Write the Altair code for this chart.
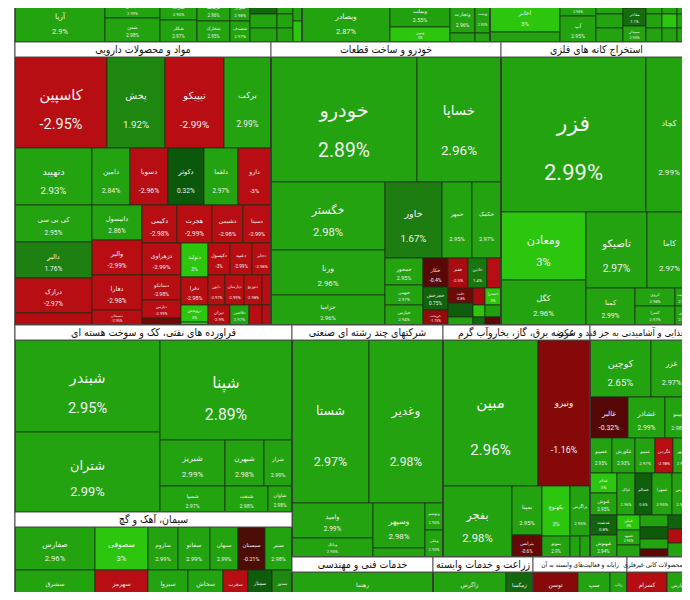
import altair as alt
import pandas as pd

# ---------------- data (ticker, % change, market value) ----------------
chem_names = ["آریا", "شپدیس", "شفن", "شاراک", "شکلر", "کرماشا", "شخارک", "شیراز", "شصدف",
              "شاملا", "شگویا", "شسینا", "شپارس", "شلعاب", "شکربن", "شجم", "شبصیر"]
chem_change = [2.9, 2.99, 2.98, 2.95, 2.97, 2.96, 2.95, 2.98, 2.97, 0.9, 2.96, 2.99, 2.95, 2.94, 2.97, 2.9, 3.0]
chem_value = [3780, 990, 1320, 740, 814, 693, 693, 420, 420, 378, 378, 378, 224, 224, 224, 189, 189]

bank_names = ["وبصادر", "وبملت", "ونوین", "وتجارت", "وسینا", "وپست", "وکار"]
bank_change = [2.87, 2.55, 3.0, 2.96, 2.9, 2.93, 2.9]
bank_value = [3696, 1620, 900, 825, 225, 495, 135]

ict_names = ["اخابر", "همراه", "های‌وب", "آپ", "افق", "انتخاب", "رافزا", "فن‌آوا", "مفاخر", "سپیدار",
             "ثامان", "سمگا", "دانا", "پرداخت", "اعتماد", "تاپکیش", "فاراک", "مبنا", "کیش"]
ict_change = [3.0, 2.9, 2.96, 2.95, 2.95, 2.97, 2.93, 2.9, 1.1, 2.95, 2.96, 2.97, 2.94, 2.95, 3.0, 2.96, 2.93, 2.95, 2.98]
ict_value = [2240, 700, 576, 936, 378, 378, 378, 184, 414, 368, 224, 210, 210, 224, 210, 210, 224, 210, 210]

pharma_names = ["کاسپین", "پخش", "تیپیکو", "برکت",
                "دتهیبد", "دامین", "دسوبا", "دکوثر", "دلقما", "دارو",
                "کی بی سی", "دالبر", "درازک", "دلر",
                "دانیسول", "والبر", "دفارا", "دسبحان",
                "دکیمی", "هجرت", "دشیمی", "دسینا",
                "دزهراوی", "دسانکو", "دپارس", "دتماد",
                "دتولید", "دفرا", "دروپخش", "دشیری",
                "دکپسول", "دعبید", "دجابر",
                "دابور", "دپارسان", "دتوزیع", "دبالک",
                "دیران", "دقاضی", "داوه", "دماوند"]
pharma_change = [-2.95, 1.92, -2.99, 2.99,
                 2.93, 2.84, -2.96, 0.32, 2.97, -3.0,
                 2.95, 1.76, -2.97, -2.9,
                 2.86, -2.99, -2.98, -2.95,
                 -2.98, -2.99, -2.98, -2.99,
                 -2.99, -2.98, -2.99, -0.8,
                 3.0, -2.98, 3.0, 3.0,
                 -3.0, -2.99, -2.98,
                 -2.97, -2.99, -2.98, -2.96,
                 -2.9, 2.97, -2.95, -2.96]
pharma_value = [8372, 5278, 5369, 4277,
                4389, 2166, 2166, 2052, 1938, 1881,
                2849, 2772, 2695, 924,
                1750, 1750, 1750, 750,
                1330, 1330, 1178, 1064,
                1248, 975, 702, 273,
                918, 756, 459, 81,
                704, 704, 608,
                510, 570, 540, 270,
                440, 380, 260, 180]

auto_names = ["خودرو", "خساپا", "خگستر", "ورنا", "خزامیا", "خاور", "خمهر", "خکمک",
              "خمحور", "خبهمن", "خپارس", "خکار", "خچرخش", "خریخت", "خفنر", "خاذین", "خرینگ",
              "خلنت", "خکاوه", "خزر", "ختور", "خعمرا", "خفولا", "خصدرا", "خموتور", "خنصیر"]
auto_change = [2.89, 2.96, 2.98, 2.96, 2.96, 1.67, 2.95, 2.97,
               2.95, 2.97, 2.94, -0.4, 0.75, -1.75, -2.5, 1.4, -2.98,
               -0.8, 0.5, 2.9, -2.5, 3.0, 0.9, 3.0, 2.5, -0.5]
auto_value = [18250, 10500, 7752, 5130, 3420, 4332, 2280, 2204,
              1026, 760, 760, 725, 575, 375, 600, 570, 420,
              375, 350, 200, 204, 144, 96, 272, 192, 128]

metal_names = ["فزر", "کچاد", "ومعادن", "کگل", "تاصیکو", "کاما", "کمنا", "کروی", "کسرا", "کرومیت", "کپرور"]
metal_change = [2.99, 2.99, 3.0, 2.96, 2.97, 2.97, 2.99, 2.98, 2.97, 2.95, 2.96]
metal_value = [22475, 7130, 5780, 3825, 4636, 3420, 1813, 720, 760, 306, 323]

oil_names = ["شبندر", "شتران", "شپنا", "شبریز", "شبهرن", "شراز", "شسپا", "شنفت", "شاوان"]
oil_change = [2.95, 2.99, 2.89, 2.99, 2.98, 2.99, 2.97, 2.98, 2.98]
oil_value = [13340, 11600, 13200, 2990, 1794, 1288, 1690, 1118, 624]

cement_names = ["صفارس", "سصوفی", "ساروم", "سفانو", "سبهان", "سیستان", "سنیر",
                "سشرق", "سهرمز", "سبزوا", "سخاش", "سغرب", "سمتاز", "سدور"]
cement_change = [2.96, 3.0, 2.99, 2.99, 2.99, -0.21, 2.98, 2.75, -2.98, 2.9, 2.93, -2.95, 0.5, 1.95]
cement_value = [3440, 2279, 1290, 1376, 1204, 1161, 1161, 2640, 1749, 1320, 1155, 825, 792, 660]

multi_names = ["شستا", "وغدیر", "وامید", "وبانک", "وسپهر", "وصنعت", "وتوسم", "وملی"]
multi_change = [2.97, 2.98, 2.99, 2.95, 2.98, 2.9, 2.95, 2.93]
multi_value = [12551, 12062, 2835, 1539, 2340, 468, 486, 486]

power_names = ["مبین", "ونیرو", "بفجر", "بمپنا", "بترانس", "بکهنوج", "بموتو", "بزاگرس", "بپاس", "بالبر"]
power_change = [2.96, -1.16, 2.98, 2.95, -0.6, 3.0, 2.9, 2.95, 2.9, 2.95]
power_value = [13870, 7592, 4899, 1470, 660, 1400, 588, 1000, 210, 210]

food_names = ["کوچین", "غزر", "غالبر", "غشاذر", "غپینو", "غصینو", "غکورش", "غمینو", "غگرجی", "غبشهر",
              "غدام", "غنوش", "غپاک", "غسالم", "غمهرا", "غفارس",
              "غدشت", "غبهنوش", "غنیلی", "غشهد", "غچین", "غاذر", "غشهداب", "غفاما", "غمارگ",
              "غگل", "غدانه", "غشصفا"]
food_change = [2.65, 2.97, -0.32, 2.99, 2.98, 2.95, 2.93, 2.97, -2.98, 2.96,
               3.0, 2.95, 2.96, 0.6, 2.95, 2.97,
               0.8, 2.94, 3.0, 2.95, 2.9, 2.96, 0.4, 2.95, -0.5,
               0.7, -2.9, 2.93]
food_value = [3477, 2337, 1558, 1517, 1107, 770, 805, 700, 630, 665,
              540, 594, 756, 714, 840, 840,
              540, 594, 345, 345, 276, 336, 336, 280, 224,
              336, 336, 336]

small_names = ["رهنما", "زاگرس", "زمگسا", "توسن", "سپ", "رتاپ", "کسرام", "کفپارس"]
small_change = [2.9, 2.95, 0.9, -1.2, 2.9, 2.95, -2.93, 2.9]
small_value = [4371, 2263, 837, 1395, 992, 527, 1240, 775]

# colour scale (% change -> tile colour)
color_stops = [-3.0, -2.9, -1.2, -0.3, 0.0, 0.3, 1.7, 2.6, 2.995, 3.0]
color_range = ["#b80e13", "#b30d12", "#870909", "#540707", "#3a1a08",
               "#0c570b", "#1d7e10", "#22a30f", "#22a30f", "#2dc60f"]

# ---------------- lookups ----------------
CHG, VAL = {}, {}
for ns, cs, vs in [(chem_names, chem_change, chem_value), (bank_names, bank_change, bank_value),
                   (ict_names, ict_change, ict_value), (pharma_names, pharma_change, pharma_value),
                   (auto_names, auto_change, auto_value), (metal_names, metal_change, metal_value),
                   (oil_names, oil_change, oil_value), (cement_names, cement_change, cement_value),
                   (multi_names, multi_change, multi_value), (power_names, power_change, power_value),
                   (food_names, food_change, food_value), (small_names, small_change, small_value)]:
    assert len(ns) == len(cs) == len(vs), ns[0]
    for n, c, v in zip(ns, cs, vs):
        assert n not in CHG, n
        CHG[n] = c
        VAL[n] = v

# ---------------- treemap structure ----------------
def H(*k):
    return ("h", list(k))


def V(*k):
    return ("v", list(k))


def S(title, body, show=True):
    return ("sector", title, body, show)


chem = S("محصولات شیمیایی", H("آریا", V("شپدیس", "شفن"), V("شاراک", "شکلر"), V("کرماشا", "شخارک"),
                                V("شیراز", "شصدف"), V("شاملا", "شگویا", "شسینا"),
                                V("شپارس", "شلعاب", "شکربن"), V("شجم", "شبصیر")), False)
bank = S("بانکها و موسسات اعتباری", H("وبصادر", V("وبملت", "ونوین"), V("وتجارت", "وسینا"),
                                       V("وپست", "وکار")), False)
ict = S("اطلاعات و ارتباطات", H(V("اخابر", "همراه"), V("های‌وب", "آپ"), V("افق", "انتخاب", "رافزا"),
                                V("فن‌آوا", "مفاخر", "سپیدار"),
                                V(H("ثامان", "سمگا", "دانا"), H("پرداخت", "اعتماد", "تاپکیش"),
                                  H("فاراک", "مبنا", "کیش"))), False)
pharma = S("مواد و محصولات دارویی", V(
    H("کاسپین", "پخش", "تیپیکو", "برکت"),
    H("دتهیبد", "دامین", "دسوبا", "دکوثر", "دلقما", "دارو"),
    H(V("کی بی سی", "دالبر", "درازک", "دلر"), V("دانیسول", "والبر", "دفارا", "دسبحان"),
      V(H("دکیمی", "هجرت", "دشیمی", "دسینا"),
        H(V("دزهراوی", "دسانکو", "دپارس", "دتماد"), V("دتولید", "دفرا", "دروپخش", "دشیری"),
          V(H("دکپسول", "دعبید", "دجابر"), H("دابور", "دپارسان", "دتوزیع", "دبالک"),
            H("دیران", "دقاضی", "داوه", "دماوند")))))))
auto = S("خودرو و ساخت قطعات", V(
    H("خودرو", "خساپا"),
    H(V("خگستر", "ورنا", "خزامیا"),
      V(H("خاور", "خمهر", "خکمک"),
        H(V("خمحور", "خبهمن", "خپارس"), V("خکار", "خچرخش", "خریخت"),
          V(H("خفنر", "خاذین", "خرینگ"),
            H(V("خلنت", "خکاوه", "خزر"), V("ختور", "خعمرا", "خفولا"), V("خصدرا", "خموتور", "خنصیر"))))))))
metal = S("استخراج کانه های فلزی", V(
    H("فزر", "کچاد"),
    H(V("ومعادن", "کگل"), V(H("تاصیکو", "کاما"), H("کمنا", V("کروی", "کسرا"), V("کرومیت", "کپرور"))))))
oil = S("فراورده های نفتی، کک و سوخت هسته ای", H(
    V("شبندر", "شتران"),
    V("شپنا", H("شبریز", "شبهرن", "شراز"), H("شسپا", "شنفت", "شاوان"))))
cement = S("سیمان، آهک و گچ", V(H(*cement_names[:7]), H(*cement_names[7:])))
multi = S("شرکتهای چند رشته ای صنعتی", V(
    H("شستا", "وغدیر"), H(V("وامید", "وبانک"), V("وسپهر", "وصنعت"), V("وتوسم", "وملی"))))
power = S("عرضه برق، گاز، بخاروآب گرم", V(
    H("مبین", "ونیرو"),
    H("بفجر", V("بمپنا", "بترانس"), V("بکهنوج", "بموتو"), V("بزاگرس", H("بپاس", "بالبر")))))
food = S("محصولات غذایی و آشامیدنی به جز قند و شکر", V(
    H("کوچین", "غزر"), H("غالبر", "غشاذر", "غپینو"),
    H("غصینو", "غکورش", "غمینو", "غگرجی", "غبشهر"),
    H(V("غدام", "غنوش"), "غپاک", "غسالم", "غمهرا", "غفارس"),
    H(V("غدشت", "غبهنوش"), V("غنیلی", "غشهد", "غچین"), V("غاذر", "غشهداب", "غفاما", "غمارگ"),
      V("غگل", "غدانه", "غشصفا"))))
tech = S("خدمات فنی و مهندسی", H("رهنما"))
agri = S("زراعت و خدمات وابسته", H("زاگرس", "زمگسا"))
comp = S("رایانه و فعالیت‌های وابسته به آن", H("توسن", "سپ", "رتاپ"))
nonmet = S("سایر محصولات کانی غیرفلزی", H("کسرام", "کفپارس"))

root = V(H(chem, bank, ict),
         H(pharma, auto, metal),
         H(V(oil, cement), V(H(multi, power, food), H(tech, agri, comp, nonmet))))

HDR = 15
HEADER_FONT = "DejaVu Sans Condensed, DejaVu Sans"
HEADER_SIZE_OVERRIDE = {"محصولات غذایی و آشامیدنی به جز قند و شکر": 9.5}


def node_value(n):
    if isinstance(n, str):
        return VAL[n]
    if n[0] == "sector":
        return node_value(n[2])
    return sum(node_value(c) for c in n[1])


def node_ov(n):
    if isinstance(n, str):
        return 0
    if n[0] == "sector":
        return (HDR if n[3] else 0) + node_ov(n[2])
    if n[0] == "h":
        return max(node_ov(c) for c in n[1])
    return sum(node_ov(c) for c in n[1])


tiles, heads, sects = [], [], []


def place(n, x0, y0, x1, y1):
    if isinstance(n, str):
        tiles.append(dict(name=n, chg=CHG[n], x0=x0, x1=x1, y0=y0, y1=y1))
        return
    if n[0] == "sector":
        _, title, body, show = n
        if show:
            heads.append(dict(title=title, x0=x0, x1=x1, y0=y0, y1=y0 + HDR))
            place(body, x0, y0 + HDR, x1, y1)
        else:
            place(body, x0, y0, x1, y1)
        sects.append(dict(x0=x0, x1=x1, y0=y0, y1=y1))
        return
    kids = n[1]
    vals = [node_value(k) for k in kids]
    tot = float(sum(vals))
    if n[0] == "h":
        x = x0
        for k, v in zip(kids, vals):
            w = (x1 - x0) * v / tot
            place(k, x, y0, x + w, y1)
            x += w
    else:
        ovs = [node_ov(k) for k in kids]
        avail = (y1 - y0) - sum(ovs)
        y = y0
        for k, v, o in zip(kids, vals, ovs):
            h = o + avail * v / tot
            place(k, x0, y, x1, y + h)
            y += h


place(root, 15, 0, 692, 603)

tdf = pd.DataFrame(tiles)
tdf["w"] = tdf.x1 - tdf.x0
tdf["h"] = tdf.y1 - tdf.y0
tdf["cx"] = (tdf.x0 + tdf.x1) / 2
tdf["cy"] = (tdf.y0 + tdf.y1) / 2
tdf["fs"] = (1.5 + tdf[["w", "h"]].min(axis=1) / 7).clip(upper=22)
tdf["ny"] = tdf.cy - 0.06 * tdf.h - 1
tdf["py"] = tdf.cy + 0.25 * tdf.h
tdf["pct"] = tdf.chg.map(lambda v: f"{v:g}%")
ldf = tdf[tdf.fs >= 3.6]

hdf = pd.DataFrame(heads)
hdf["cx"] = (hdf.x0 + hdf.x1) / 2
hdf["cy"] = (hdf.y0 + hdf.y1) / 2 + 0.5
hdf["fs"] = [HEADER_SIZE_OVERRIDE.get(t, max(6.5, min(10.5, (b - a) / (len(t) * 0.46))))
             for t, a, b in zip(hdf.title, hdf.x0, hdf.x1)]
sdf = pd.DataFrame(sects)

W, HGT = 674, 584
xs = alt.Scale(domain=[8, 8 + W], nice=False, zero=False)
ys = alt.Scale(domain=[8, 8 + HGT], nice=False, zero=False, reverse=True)
cscale = alt.Scale(domain=color_stops, range=color_range, interpolate="rgb")

tile_layer = alt.Chart(tdf).mark_rect(stroke="#1b3014", strokeWidth=0.8, clip=True).encode(
    x=alt.X("x0:Q", scale=xs, axis=None), x2="x1:Q",
    y=alt.Y("y0:Q", scale=ys, axis=None), y2="y1:Q",
    color=alt.Color("chg:Q", scale=cscale, legend=None))

name_layer = alt.Chart(ldf).mark_text(font="DejaVu Sans", color="#f4f4f4", clip=True,
                                      align="center", baseline="middle").encode(
    x=alt.X("cx:Q", scale=xs), y=alt.Y("ny:Q", scale=ys),
    text="name:N", size=alt.Size("fs:Q", scale=None, legend=None))

pct_layer = alt.Chart(ldf).mark_text(font="Roboto", color="#f0f0f0", clip=True,
                                     align="center", baseline="middle").encode(
    x=alt.X("cx:Q", scale=xs), y=alt.Y("py:Q", scale=ys),
    text="pct:N", size=alt.Size("fs:Q", scale=None, legend=None))

sect_layer = alt.Chart(sdf).mark_rect(filled=False, stroke="#3a3a3a", strokeWidth=1.2, clip=True).encode(
    x=alt.X("x0:Q", scale=xs), x2="x1:Q", y=alt.Y("y0:Q", scale=ys), y2="y1:Q")

head_layer = alt.Chart(hdf).mark_rect(fill="white", stroke="#555555", strokeWidth=1, clip=True).encode(
    x=alt.X("x0:Q", scale=xs), x2="x1:Q", y=alt.Y("y0:Q", scale=ys), y2="y1:Q")

head_text = alt.Chart(hdf).mark_text(font=HEADER_FONT, color="#111111", clip=True,
                                     align="center", baseline="middle").encode(
    x=alt.X("cx:Q", scale=xs), y=alt.Y("cy:Q", scale=ys),
    text="title:N", size=alt.Size("fs:Q", scale=None, legend=None))

chart = alt.layer(tile_layer, name_layer, pct_layer, sect_layer, head_layer, head_text).properties(
    width=W, height=HGT, padding=0, autosize=alt.AutoSizeParams(type="none"), background="white"
).configure_view(strokeWidth=0)

chart.save("out.html", embed_options={"renderer": "svg", "actions": False})
